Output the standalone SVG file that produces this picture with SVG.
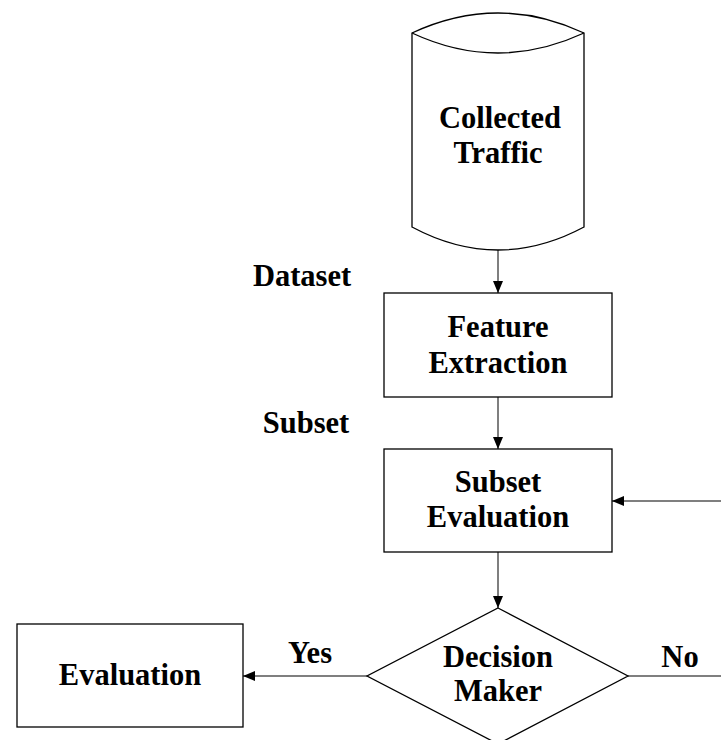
<svg xmlns="http://www.w3.org/2000/svg" width="721" height="740" viewBox="0 0 721 740">
<defs>
<style>
.shape{fill:#fff;stroke:#000;stroke-width:1.3}
.conn{fill:none;stroke:#555;stroke-width:1.5}
text{font-family:"Liberation Serif","Times New Roman",serif;font-weight:bold;font-size:30.5px;fill:#000;text-anchor:middle}
</style>
<marker id="arr" viewBox="0 0 12 10" refX="12" refY="5" markerWidth="12" markerHeight="10" markerUnits="userSpaceOnUse" orient="auto">
<path d="M0,0 L12,5 L0,10 Z" fill="#000"/>
</marker>
</defs>
<rect width="721" height="740" fill="#fff"/>
<g id="connectors">
<line class="conn" x1="498" y1="250" x2="498" y2="293" marker-end="url(#arr)"/>
<line class="conn" x1="498" y1="397" x2="498" y2="449" marker-end="url(#arr)"/>
<line class="conn" x1="498" y1="552" x2="498" y2="608" marker-end="url(#arr)"/>
<line class="conn" x1="367" y1="676" x2="243" y2="676" marker-end="url(#arr)"/>
<line class="conn" x1="628" y1="676" x2="721" y2="676"/>
<line class="conn" x1="721" y1="501" x2="612" y2="501" marker-end="url(#arr)"/>
<text x="302" y="286">Dataset</text>
<text x="306" y="433">Subset</text>
<text x="310" y="663">Yes</text>
<text x="680" y="667">No</text>
</g>
<g id="collected-traffic">
<path class="shape" d="M412,33 Q498,-7 584,33 L584,227 Q498,273 412,227 Z"/>
<path class="shape" fill="none" d="M412,33 Q498,73 584,33"/>
<text x="500" y="128">Collected</text>
<text x="498" y="163">Traffic</text>
</g>
<g id="feature-extraction">
<rect class="shape" x="384" y="293" width="228" height="104"/>
<text x="498" y="337">Feature</text>
<text x="498" y="373">Extraction</text>
</g>
<g id="subset-evaluation">
<rect class="shape" x="384" y="449" width="228" height="103"/>
<text x="498" y="492">Subset</text>
<text x="498" y="527">Evaluation</text>
</g>
<g id="decision-maker">
<path class="shape" d="M498,608 L628,676 L498,744 L367,676 Z"/>
<text x="498" y="667">Decision</text>
<text x="498" y="701">Maker</text>
</g>
<g id="evaluation">
<rect class="shape" x="17" y="624" width="226" height="103"/>
<text x="130" y="685">Evaluation</text>
</g>
</svg>
